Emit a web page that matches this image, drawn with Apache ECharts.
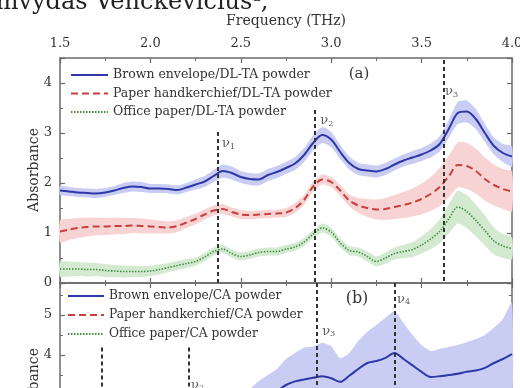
<!DOCTYPE html>
<html>
<head>
<meta charset="utf-8">
<script src="https://cdn.jsdelivr.net/npm/echarts@6/dist/echarts.min.js"></script>
<style>
html,body{margin:0;padding:0;background:#fff;}
#chart{width:520px;height:388px;}
</style>
</head>
<body>
<div id="chart"></div>
<script>
// ---- frequency grids (THz) ----
const freqA = [1.50,1.55,1.60,1.65,1.70,1.75,1.80,1.85,1.90,1.95,
               2.00,2.05,2.10,2.15,2.20,2.25,2.30,2.35,2.40,2.45,
               2.50,2.55,2.60,2.65,2.70,2.75,2.80,2.85,2.90,2.95,
               3.00,3.05,3.10,3.15,3.20,3.25,3.30,3.35,3.40,3.45,
               3.50,3.55,3.60,3.65,3.70,3.75,3.80,3.85,3.90,3.95,4.00];
const freqB = [2.50,2.55,2.60,2.65,2.70,2.75,2.80,2.85,2.90,2.95,
               3.00,3.05,3.10,3.15,3.20,3.25,3.30,3.35,3.40,3.45,
               3.50,3.55,3.60,3.65,3.70,3.75,3.80,3.85,3.90,3.95,4.00];

// ---- (a) DL-TA powder: mean absorbance and spread ----
const brownDL = [1.85,1.83,1.81,1.80,1.79,1.81,1.85,1.90,1.93,1.92,
                 1.89,1.89,1.88,1.86,1.91,1.97,2.03,2.14,2.24,2.20,
                 2.12,2.08,2.07,2.16,2.22,2.30,2.39,2.56,2.80,2.96,
                 2.87,2.62,2.40,2.28,2.25,2.23,2.28,2.37,2.45,2.51,
                 2.57,2.65,2.78,3.08,3.40,3.43,3.28,3.00,2.74,2.60,2.53];
const brownDLSpread = [0.09,0.09,0.09,0.09,0.09,0.09,0.09,0.10,0.10,0.10,
                       0.09,0.09,0.09,0.09,0.09,0.10,0.11,0.12,0.13,0.13,
                       0.12,0.12,0.12,0.12,0.12,0.12,0.13,0.14,0.15,0.16,
                       0.15,0.14,0.13,0.12,0.12,0.12,0.12,0.12,0.12,0.13,
                       0.13,0.14,0.15,0.18,0.22,0.22,0.20,0.18,0.17,0.18,0.20];
const tissueDL = [1.03,1.07,1.10,1.12,1.13,1.13,1.14,1.14,1.15,1.14,
                  1.13,1.12,1.11,1.14,1.21,1.28,1.37,1.45,1.48,1.42,
                  1.37,1.36,1.37,1.38,1.39,1.41,1.50,1.66,1.93,2.07,
                  2.02,1.85,1.65,1.55,1.50,1.47,1.48,1.52,1.56,1.61,
                  1.68,1.78,1.92,2.13,2.36,2.34,2.24,2.08,1.96,1.88,1.83];
const tissueDLSpread = [0.22,0.21,0.20,0.19,0.18,0.17,0.17,0.16,0.15,0.15,
                        0.14,0.13,0.12,0.12,0.11,0.11,0.10,0.10,0.10,0.09,
                        0.09,0.08,0.08,0.08,0.08,0.09,0.10,0.10,0.10,0.10,
                        0.10,0.11,0.12,0.15,0.18,0.20,0.22,0.24,0.26,0.28,
                        0.31,0.34,0.38,0.42,0.45,0.46,0.45,0.43,0.41,0.40,0.40];
const officeDL = [0.28,0.28,0.28,0.27,0.27,0.25,0.24,0.23,0.23,0.23,
                  0.24,0.27,0.31,0.35,0.39,0.43,0.52,0.63,0.68,0.59,
                  0.53,0.56,0.61,0.63,0.63,0.68,0.72,0.82,0.98,1.10,
                  1.02,0.80,0.65,0.62,0.53,0.43,0.50,0.59,0.63,0.67,
                  0.76,0.88,1.03,1.28,1.52,1.43,1.25,1.05,0.84,0.74,0.69];
const officeDLSpread = [0.15,0.15,0.14,0.14,0.13,0.13,0.12,0.12,0.11,0.11,
                        0.10,0.10,0.09,0.09,0.09,0.08,0.08,0.08,0.08,0.08,
                        0.08,0.08,0.08,0.08,0.08,0.08,0.08,0.08,0.08,0.09,
                        0.09,0.09,0.09,0.09,0.10,0.10,0.11,0.12,0.13,0.15,
                        0.17,0.20,0.24,0.29,0.33,0.33,0.32,0.30,0.27,0.24,0.22];

// ---- (b) CA powder ----
const brownCA = [2.75,2.85,2.95,3.03,3.10,3.25,3.34,3.39,3.43,3.47,
                 3.42,3.33,3.48,3.65,3.80,3.85,3.93,4.05,3.90,3.74,
                 3.58,3.45,3.47,3.50,3.53,3.58,3.61,3.68,3.80,3.90,4.02];
const brownCASpread = [0.25,0.30,0.40,0.47,0.55,0.65,0.71,0.79,0.78,0.83,
                       0.80,0.59,0.57,0.70,0.78,0.90,1.00,1.05,0.90,0.76,
                       0.67,0.65,0.68,0.70,0.72,0.74,0.79,0.82,0.88,1.00,1.29];
const tissueCA = [];
const officeCA = [];

// ---- marked modes ----
const modesA = [2.37, 2.91, 3.62];
const modesATop = [3.02, 3.46, 4.46];
const modeLabelsA = [[2.396, 2.78, 1], [2.94, 3.24, 2], [3.63, 3.82, 3]];
const modesB = [1.73, 2.21, 2.92, 3.35];
const modesBTop = [4.19, 4.19, 5.8, 5.8];
const modeLabelsB = [[2.225, 3.24, 2], [2.95, 4.59, 3], [3.364, 5.39, 4]];

// ---- tick labels ----
const freqTicks = {min: 1.5, max: 4.0, step: 0.5};

const FONT = 'DejaVu Serif';
const INK = '#333';
const FRAME = '#6a6a6a';

const names = {
  brownDL: 'Brown envelope/DL-TA powder',
  tissueDL: 'Paper handkerchief/DL-TA powder',
  officeDL: 'Office paper/DL-TA powder',
  brownCA: 'Brown envelope/CA powder',
  tissueCA: 'Paper handkerchief/CA powder',
  officeCA: 'Office paper/CA powder'
};

function pairs(f, v) { return v.map((y, i) => [f[i], y]); }

// shaded spread drawn as one polygon through the axis scales
function band(xi, yi, f, mean, spread, fill) {
  const rows = mean.map((m, i) => [f[i], m - spread[i], m + spread[i]]);
  return {
    type: 'custom', xAxisIndex: xi, yAxisIndex: yi, silent: true, z: 1,
    data: rows, encode: {x: 0, y: [1, 2]},
    renderItem(params, api) {
      if (params.dataIndex !== 0) return null;
      const up = rows.map(r => api.coord([r[0], r[2]]));
      const lo = rows.map(r => api.coord([r[0], r[1]])).reverse();
      return {type: 'polygon', shape: {points: up.concat(lo), smooth: 0.2}, style: {fill: fill}};
    }
  };
}

function line(name, xi, yi, f, v, color, type, width) {
  return {
    type: 'line', name: name, xAxisIndex: xi, yAxisIndex: yi,
    data: pairs(f, v), symbol: 'none', smooth: 0.3, z: 3, silent: true,
    itemStyle: {color: color, opacity: 0},
    lineStyle: {color: color, width: width, type: type, opacity: 1}
  };
}

function modes(xi, yi, xs, tops, labels) {
  return {
    type: 'scatter', xAxisIndex: xi, yAxisIndex: yi, z: 5, silent: true,
    symbolSize: 0, itemStyle: {color: 'rgba(0,0,0,0)'},
    data: labels,
    label: {
      show: true, position: 'right', distance: 0,
      formatter: p => '{n|ν}{s|' + p.value[2] + '}',
      rich: {
        n: {fontFamily: FONT, fontSize: 13, color: INK, verticalAlign: 'bottom'},
        s: {fontFamily: FONT, fontSize: 8, color: INK, verticalAlign: 'bottom'}
      }
    },
    markLine: {
      silent: true, symbol: ['none', 'none'], label: {show: false},
      lineStyle: {color: '#333', width: 2, type: [4, 3]},
      data: xs.map((x, i) => [{coord: [x, tops[i]]}, {coord: [x, 0]}])
    }
  };
}

const baseAxis = {
  type: 'value',
  axisLine: {show: true, onZero: false, lineStyle: {color: FRAME, width: 1.5}},
  axisTick: {show: true, inside: true, length: 5, lineStyle: {color: FRAME, width: 1.2}},
  minorTick: {show: true, splitNumber: 2, length: 3, lineStyle: {color: FRAME, width: 1}},
  splitLine: {show: false},
  minorSplitLine: {show: false},
  axisLabel: {show: false}
};
const labelStyle = {show: true, color: INK, fontFamily: FONT, fontSize: 13};
const freqRange = {min: freqTicks.min, max: freqTicks.max, interval: freqTicks.step};
const legendText = {fontFamily: FONT, color: INK, lineHeight: 14};
const yTitle = {font: '14px "DejaVu Serif"', fill: INK, textAlign: 'center', textVerticalAlign: 'middle'};

const option = {
  animation: false,
  backgroundColor: '#fff',
  grid: [
    {left: 60, top: 58, width: 452, height: 225, containLabel: false, outerBoundsMode: 'none'},
    {left: 60, top: 283, width: 452, height: 232, containLabel: false, outerBoundsMode: 'none'}
  ],
  xAxis: [
    Object.assign({}, baseAxis, freqRange, {
      gridIndex: 0, position: 'top',
      axisLabel: Object.assign({}, labelStyle, {margin: 8, formatter: v => v.toFixed(1)}),
      name: 'Frequency (THz)', nameLocation: 'middle', nameGap: 30,
      nameTextStyle: {color: INK, fontFamily: FONT, fontSize: 14}
    }),
    Object.assign({}, baseAxis, freqRange, {gridIndex: 0, position: 'bottom'}),
    Object.assign({}, baseAxis, freqRange, {gridIndex: 1, position: 'top'})
  ],
  yAxis: [
    Object.assign({}, baseAxis, {
      gridIndex: 0, position: 'left', min: 0, max: 4.5, interval: 1,
      axisLabel: Object.assign({}, labelStyle, {margin: 8, showMaxLabel: false})
    }),
    Object.assign({}, baseAxis, {gridIndex: 0, position: 'right', min: 0, max: 4.5, interval: 1}),
    Object.assign({}, baseAxis, {
      gridIndex: 1, position: 'left', min: 0, max: 5.8, interval: 1,
      axisLabel: Object.assign({}, labelStyle, {margin: 8, showMaxLabel: false})
    }),
    Object.assign({}, baseAxis, {gridIndex: 1, position: 'right', min: 0, max: 5.8, interval: 1})
  ],
  legend: [
    {
      data: [names.brownDL, names.tissueDL, names.officeDL],
      orient: 'vertical', left: 70, top: 68, padding: 0,
      itemWidth: 37, itemHeight: 8, itemGap: 4.5, selectedMode: false,
      itemStyle: {opacity: 0},
      textStyle: Object.assign({fontSize: 12.5}, legendText)
    },
    {
      data: [names.brownCA, names.tissueCA, names.officeCA],
      orient: 'vertical', left: 67, top: 289, padding: 0,
      itemWidth: 36, itemHeight: 8, itemGap: 5, selectedMode: false,
      itemStyle: {opacity: 0},
      textStyle: Object.assign({fontSize: 12.2}, legendText)
    }
  ],
  graphic: [
    {
      type: 'text', x: -30, y: 2.5, silent: true,
      style: {
        text: 'Rimvydas Venckevičius{sup|a},',
        font: '24px "DejaVu Serif"', fill: '#222',
        textAlign: 'left', textVerticalAlign: 'middle',
        rich: {sup: {fontFamily: FONT, fontSize: 14, fill: '#222', verticalAlign: 'top'}}
      }
    },
    {type: 'text', x: 359, y: 74, silent: true,
     style: {text: '(a)', font: '15px "DejaVu Serif"', fill: INK, textAlign: 'center', textVerticalAlign: 'middle'}},
    {type: 'text', x: 357, y: 299, silent: true,
     style: {text: '(b)', font: '16px "DejaVu Serif"', fill: INK, textAlign: 'center', textVerticalAlign: 'middle'}},
    {type: 'text', x: 34, y: 170, rotation: Math.PI / 2, silent: true,
     style: Object.assign({text: 'Absorbance'}, yTitle)},
    {type: 'text', x: 34, y: 390, rotation: Math.PI / 2, silent: true,
     style: Object.assign({text: 'Absorbance'}, yTitle)}
  ],
  series: [
    band(0, 0, freqA, brownDL, brownDLSpread, '#c9ccf3'),
    band(0, 0, freqA, tissueDL, tissueDLSpread, '#f7d4d3'),
    band(0, 0, freqA, officeDL, officeDLSpread, '#d3ead1'),
    band(2, 2, freqB, brownCA, brownCASpread, '#c9ccf3'),
    line(names.brownDL, 0, 0, freqA, brownDL, '#2e38a6', 'solid', 2),
    line(names.tissueDL, 0, 0, freqA, tissueDL, '#c8403e', [7, 4], 2),
    line(names.officeDL, 0, 0, freqA, officeDL, '#3f8f3f', [1.5, 1.5], 1.6),
    line(names.brownCA, 2, 2, freqB, brownCA, '#2e38a6', 'solid', 2),
    line(names.tissueCA, 2, 2, freqB, tissueCA, '#c8403e', [7, 4], 2),
    line(names.officeCA, 2, 2, freqB, officeCA, '#3f8f3f', [1.5, 1.5], 1.6),
    modes(0, 0, modesA, modesATop, modeLabelsA),
    modes(2, 2, modesB, modesBTop, modeLabelsB)
  ]
};

const chart = echarts.init(document.getElementById('chart'));
chart.setOption(option);
</script>
</body>
</html>
